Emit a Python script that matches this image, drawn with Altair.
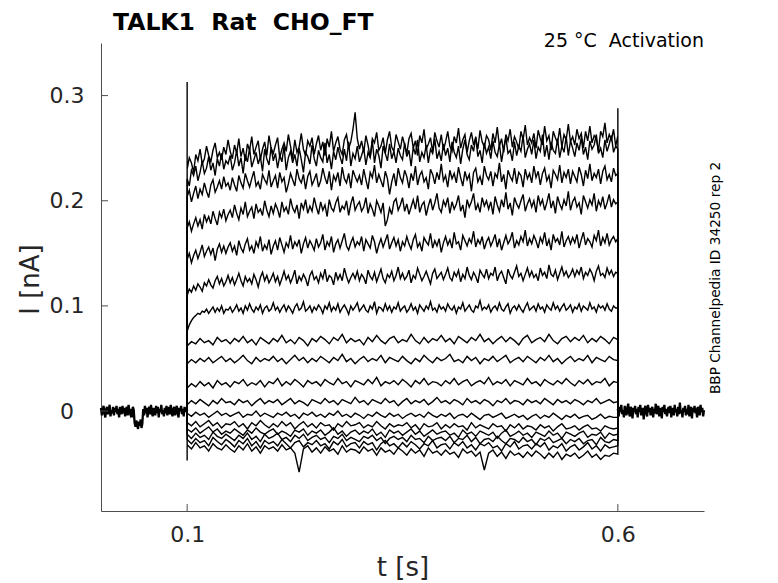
import altair as alt
import numpy as np
import pandas as pd

# ---------------- data (currents in pA) ----------------
T_PRE = (0.0, 0.1)
T_STEP = (0.1, 0.6)
T_POST = (0.6, 0.7)

PRE_BASE = """3 -4 1 5 -2 -6 2 4 -3 0 6 -5 1 -2 4 -4 3 -1 5 -3
2 -6 4 0 -3 5 -2 3 -5 1 4 -4 6 -1 -3 2 -6 4 1 -11
-15 -9 -13 -17 -10 -14 -8 -16 -12 2 -4 5 -2 3 -6 1 4 -3 6 -1
-5 3 0 -4 5 -2 4 -6 2 -1 6 -3 1 -5 3 -2 5 -4 0 4
-3 6 -1 -5 2 4 -4 1 5 -2 -6 3 0 5 -3 2 -5 4 -1 3
0"""

POST_BASE = """2 -5 4 -1 6 -3 1 -6 5 0 -4 3 7 -2 -5 4 1 -7 3 -1
5 -3 2 -6 4 -1 6 -4 0 3 -8 2 5 -2 -5 6 -1 3 -4 1
4 -6 2 -2 7 -3 1 5 -5 0 3 -7 4 -1 6 -3 2 -5 1 4
-2 5 -6 3 0 -4 6 -1 2 -5 4 -3 8 -2 1 -6 3 -1 5 -4
2 -3 6 -5 1 4 -7 3 -1 5 -2 0 -6 4 2 -4 6 -1 3 -5
1"""

TRACE_01 = """230 241 236 227 244 238 249 235 240 252 243 237 248 255 241 246 239 251 244 258
247 240 253 245 259 242 250 238 254 248 261 244 251 257 239 249 256 243 262 250
245 253 260 241 249 255 247 263 252 240 258 246 251 264 249 243 257 252 260 244
254 262 248 256 243 259 251 266 247 255 261 249 244 258 263 250 256 268 284 259
249 257 246 262 253 241 259 255 265 248 252 260 245 258 266 251 247 263 256 249
261 253 245 259 264 250 257 243 262 255 268 249 254 260 246 265 257 251 263 248
256 266 252 247 261 255 269 250 258 263 246 257 265 253 260 249 267 256 251 262
258 248 264 255 270 252 259 246 263 257 268 251 261 256 249 266 258 272 253 260
255 264 250 267 259 253 271 257 262 248 266 260 255 269 251 263 258 273 256 261
253 268 259 264 250 266 257 271 255 262 259 247 266 261 274 255 263 258 268 252
262"""

TRACE_02 = """221 214 229 224 233 219 227 238 226 231 242 229 236 224 240 233 245 230 238 235
243 229 236 248 233 241 226 244 237 250 232 239 246 235 242 228 249 240 234 251
238 245 231 243 237 252 229 241 247 236 244 233 250 239 227 246 242 235 253 240
233 248 241 237 255 236 244 230 247 239 251 242 235 249 238 256 233 245 240 252
237 243 250 234 246 241 257 236 249 243 231 252 245 238 254 240 247 236 250 243
239 255 242 248 233 251 244 258 237 246 241 253 236 249 245 259 240 247 238 254
243 250 237 256 246 241 252 235 249 258 244 239 253 247 261 242 248 236 255 245
251 240 257 246 242 254 237 250 260 245 248 238 256 243 252 247 262 241 249 254
244 258 240 251 247 263 242 253 239 256 248 245 259 241 252 246 261 243 257 250
242 255 248 260 244 251 239 257 249 253 263 245 250 241 258 247 254 262 246 252
249"""

TRACE_03 = """204 210 199 207 214 202 211 206 217 209 203 215 220 208 213 219 211 223 214 217
210 222 215 209 224 217 212 226 219 213 221 228 214 218 211 225 220 216 229 213
219 224 212 227 218 222 208 216 226 220 214 230 221 217 225 211 223 228 215 220
226 213 219 231 222 216 228 210 224 219 227 214 232 221 217 226 212 229 223 218
224 215 230 220 211 227 222 234 217 225 219 213 228 221 206 218 226 214 231 222
217 229 223 212 226 219 233 215 224 228 218 222 211 230 225 216 227 220 235 219
224 213 229 221 226 217 232 222 214 228 220 225 209 227 231 218 223 215 233 224
220 228 214 226 222 236 218 225 211 229 223 219 231 216 227 224 213 230 221 226
217 233 222 228 215 226 231 219 224 212 229 225 220 234 217 227 222 230 216 228
223 218 232 225 214 229 221 235 219 226 222 230 216 228 233 220 225 218 231 224
226"""

TRACE_04 = """174 180 171 178 184 176 182 173 187 180 185 178 190 183 177 189 184 192 181 187
191 184 196 188 182 193 187 199 185 190 194 183 197 189 192 186 200 191 185 195
188 197 192 184 199 190 194 187 202 193 189 196 183 198 192 201 188 195 190 203
194 187 199 191 196 185 201 193 190 198 203 189 195 192 200 186 197 204 191 196
199 190 194 203 188 197 192 185 200 195 189 198 176 182 193 187 199 202 191 196
203 190 197 187 194 201 192 205 189 196 199 186 195 202 191 198 207 193 189 200
195 203 188 199 192 197 205 190 196 184 201 194 199 207 191 197 189 203 195 200
192 199 187 204 196 190 201 194 208 192 198 186 203 197 193 200 206 190 197 202
194 200 189 205 196 201 191 198 207 193 200 188 204 197 192 201 195 209 191 199
203 194 198 187 205 199 193 201 196 207 190 200 195 204 192 198 206 194 201 197
199"""

TRACE_05 = """144 150 141 148 153 145 151 158 147 152 156 149 155 143 154 159 151 157 150 156
160 152 157 148 162 155 151 159 164 153 157 150 161 156 166 152 158 154 163 149
157 162 153 165 158 151 160 156 167 154 161 157 163 150 159 165 155 162 158 153
164 156 160 168 153 161 157 166 151 159 163 155 162 169 157 153 160 165 156 161
158 166 152 163 159 155 167 161 150 158 164 156 162 168 154 160 165 157 163 152
161 157 166 159 154 163 168 156 160 152 165 161 158 169 155 162 157 164 151 160
166 158 163 155 170 159 161 153 167 162 157 164 160 171 156 163 159 166 154 161
165 157 162 168 156 164 153 160 167 159 163 170 155 162 158 166 161 172 157 164
159 167 162 155 165 160 170 157 163 153 168 161 164 158 171 156 162 166 159 165
160 168 155 163 170 158 164 161 156 167 162 172 157 165 160 169 158 163 166 161
164"""

TRACE_06 = """110 116 113 119 115 121 118 114 122 119 125 120 117 124 128 121 126 119 123 129
122 127 120 125 131 124 119 128 123 126 121 130 125 118 127 132 124 129 122 126
131 123 128 120 126 133 125 129 122 127 134 121 128 124 130 126 119 129 133 125
128 122 131 126 135 123 129 127 120 132 125 130 124 136 128 122 127 131 126 133
124 130 127 121 134 128 125 132 123 129 135 126 122 130 127 133 124 129 137 126
131 125 128 134 122 129 126 136 130 124 128 133 127 121 131 135 126 129 132 125
130 136 127 124 132 128 134 123 130 126 137 129 125 132 128 122 134 130 127 135
126 131 129 137 124 130 133 127 121 135 129 126 132 138 128 131 124 130 136 128
133 127 130 124 136 129 132 126 139 130 128 134 125 131 137 129 133 127 130 135
128 134 130 137 126 132 129 135 131 124 133 138 129 131 127 136 130 134 128 132
131"""

TRACE_07 = """76 82 86 89 91 93 92 95 94 97 93 96 99 94 98 95 100 93 97 96
99 94 97 101 95 98 93 100 96 102 97 94 99 96 101 93 98 100 95 97
103 96 99 94 98 101 95 100 97 93 99 102 96 98 104 95 97 100 94 99
96 101 98 93 100 97 103 95 99 96 102 94 98 101 97 92 100 96 99 103
95 98 101 96 94 100 97 104 93 99 98 95 102 96 100 94 99 97 103 95
98 100 94 97 102 96 99 93 101 98 95 100 97 104 96 98 94 101 97 99
95 102 98 96 100 93 99 97 103 95 98 101 96 94 100 98 105 96 99 97
101 94 98 100 96 103 97 95 99 102 93 98 100 96 101 97 94 99 103 96
98 100 95 102 97 99 94 101 98 96 103 97 100 95 99 102 96 98 101 94
99 97 102 95 100 98 96 103 97 99 94 101 98 100 96 102 97 95 100 98
98"""

TRACE_08 = """62 66 64 69 65 67 63 70 66 68
64 69 66 71 65 68 63 70 67 64
69 66 72 65 68 64 70 67 62 69
66 71 68 64 70 67 73 65 69 66
68 63 70 66 72 67 64 69 71 65
68 66 73 67 64 70 65 69 67 72
66 69 64 71 68 65 70 67 73 66
69 64 68 71 66 70 67 63 69 72
65 68 70 66 73 67 64 69 71 66
70 67 72 65 69 66 71 68 64 70
68"""

TRACE_09 = """45 49 46 50 47 51 46 49 52 47
50 46 49 53 48 45 51 47 50 48
52 47 50 45 49 53 48 51 46 50
47 52 49 46 51 48 54 47 50 45
49 52 47 50 48 53 46 51 49 47
52 48 45 50 47 53 49 46 51 48
50 54 47 49 46 52 48 51 45 50
48 52 47 50 53 46 49 51 47 52
49 46 51 48 53 47 50 45 49 52
47 50 48 53 46 51 49 47 52 49
48"""

TRACE_10 = """22 26 23 28 24 27 22 29 25 27
23 28 26 30 24 27 25 29 23 28
26 31 24 28 25 30 27 23 29 26
28 24 30 27 25 31 26 28 23 29
27 25 30 26 32 24 28 26 29 25
30 27 23 29 26 31 25 28 27 24
29 26 31 25 28 30 24 27 29 26
32 25 28 26 30 24 29 27 25 31
26 28 24 30 27 25 29 26 31 27
24 29 26 30 25 28 27 31 24 28
27"""

TRACE_11 = """6 10 7 11 8 5 10 7 12 8
9 6 11 8 10 5 9 12 7 10
8 11 6 9 12 7 10 8 5 11
9 7 12 8 10 6 11 9 7 13
8 10 6 11 9 7 12 8 10 5
9 12 7 10 8 11 6 9 13 8
10 7 11 9 6 12 8 10 7 11
9 5 10 8 12 7 10 9 6 11
8 10 7 12 9 6 11 8 10 7
11 9 6 10 8 12 7 9 11 8
9"""

TRACE_12 = """-2 -5 -1 -4 -2 -6 -3 0 -4 -2
-5 -3 -1 -6 -3 -4 0 -5 -2 -4
-6 -2 -4 -1 -5 -3 -7 -2 -4 -1
-5 -3 -6 -2 -4 0 -5 -3 -6 -2
-4 -7 -3 -5 -1 -4 -6 -2 -5 -3
-7 -4 -2 -5 -3 -6 -1 -4 -6 -3
-5 -2 -7 -4 -3 -6 -2 -5 -8 -4
-3 -6 -4 -2 -7 -5 -3 -6 -4 -8
-5 -3 -7 -4 -6 -2 -5 -8 -4 -6
-3 -7 -5 -4 -8 -6 -3 -7 -5 -6
-6"""

TRACE_13 = """-11 -14 -10 -15 -12 -9 -14 -11 -16 -12
-13 -10 -15 -12 -17 -11 -14 -9 -13 -16
-12 -15 -10 -14 -11 -17 -13 -10 -15 -12
-16 -11 -14 -13 -18 -12 -15 -10 -14 -13
-11 -16 -13 -15 -10 -14 -17 -12 -15 -13
-14 -11 -16 -13 -18 -12 -15 -14 -11 -17
-13 -16 -12 -15 -14 -18 -11 -16 -13 -15
-17 -12 -15 -14 -19 -13 -16 -12 -17 -14
-15 -18 -13 -16 -14 -19 -15 -12 -17 -16
-14 -18 -15 -13 -17 -16 -19 -14 -16 -17
-16"""

TRACE_14 = """-17 -20 -16 -21 -18 -15 -20 -17 -22 -19
-21 -17 -20 -23 -18 -21 -16 -20 -22 -19
-17 -22 -19 -21 -24 -18 -20 -17 -23 -19
-21 -18 -23 -20 -16 -22 -19 -24 -20 -18
-22 -19 -21 -17 -23 -20 -25 -18 -21 -19
-23 -20 -17 -22 -19 -24 -21 -18 -22 -20
-19 -23 -21 -25 -18 -22 -20 -24 -19 -21
-23 -20 -26 -21 -18 -24 -22 -19 -23 -21
-25 -20 -22 -24 -19 -23 -21 -26 -20 -22
-24 -21 -19 -25 -22 -23 -20 -26 -21 -23
-22"""

TRACE_15 = """-22 -26 -21 -25 -23 -27 -20 -24 -26 -22
-25 -28 -23 -26 -21 -27 -24 -29 -22 -26
-24 -21 -27 -25 -29 -23 -26 -22 -28 -25
-23 -27 -25 -30 -24 -26 -22 -28 -25 -27
-29 -24 -26 -23 -28 -25 -31 -26 -24 -27
-25 -29 -23 -27 -26 -30 -24 -28 -26 -25
-28 -24 -30 -26 -27 -23 -29 -25 -31 -27
-26 -29 -24 -28 -31 -26 -27 -30 -25 -29
-27 -32 -26 -28 -25 -30 -28 -26 -31 -27
-29 -26 -31 -28 -27 -32 -25 -29 -30 -27
-28"""

TRACE_16 = """-27 -31 -26 -30 -28 -33 -25 -29 -32 -27
-30 -34 -28 -31 -26 -33 -29 -35 -28 -31
-29 -33 -27 -31 -35 -30 -28 -34 -30 -32
-28 -33 -31 -36 -29 -32 -27 -34 -31 -30
-35 -29 -32 -30 -37 -31 -28 -33 -31 -35
-30 -34 -29 -32 -36 -31 -33 -28 -35 -32
-31 -36 -30 -33 -29 -35 -32 -37 -31 -33
-30 -35 -33 -38 -31 -34 -29 -36 -33 -32
-36 -31 -34 -30 -37 -33 -35 -31 -38 -34
-32 -37 -34 -30 -36 -33 -38 -32 -35 -34
-33"""

TRACE_17 = """-32 -36 -30 -35 -33 -38 -31 -35 -37 -32
-36 -39 -33 -37 -31 -38 -34 -40 -33 -36
-34 -38 -32 -37 -35 -40 -58 -36 -33 -39
-35 -40 -34 -38 -36 -41 -33 -39 -36 -37
-40 -34 -38 -36 -42 -35 -39 -37 -41 -35
-38 -42 -36 -40 -37 -43 -35 -40 -38 -42
-37 -41 -39 -44 -36 -40 -38 -43 -39 -56
-40 -37 -43 -39 -45 -38 -42 -40 -44 -39
-43 -38 -41 -45 -40 -44 -39 -46 -41 -43
-40 -45 -42 -38 -44 -41 -46 -42 -43 -40
-41"""

TRACES = [TRACE_01, TRACE_02, TRACE_03, TRACE_04, TRACE_05, TRACE_06,
          TRACE_07, TRACE_08, TRACE_09, TRACE_10, TRACE_11, TRACE_12,
          TRACE_13, TRACE_14, TRACE_15, TRACE_16, TRACE_17]

# capacitive transients at the step edges (pA): {trace index: value}
ONSET_SPIKES = {0: 313, 16: -47}
OFFSET_SPIKES = {0: 288}

X_TICKS = [0.1, 0.6]
Y_TICKS = [0.0, 0.1, 0.2, 0.3]
X_DOMAIN = [0.0, 0.7]
Y_DOMAIN = [-0.095, 0.35]

TITLE = "TALK1\u00a0 Rat\u00a0 CHO_FT"
CONDITION = "25 °C\u00a0 Activation"
SOURCE = "BBP Channelpedia ID 34250 rep 2"


def parse(s):
    return [int(v) for v in s.split()]


# ---------------- build long table ----------------
rows = []
pre = parse(PRE_BASE)
for t, v in zip(np.linspace(T_PRE[0], T_PRE[1], len(pre)), pre):
    rows.append(dict(t=t, I=v / 1000, trace="pre", o=len(rows), kind="base"))
post = parse(POST_BASE)
for t, v in zip(np.linspace(T_POST[0], T_POST[1], len(post)), post):
    rows.append(dict(t=t, I=v / 1000, trace="post", o=len(rows), kind="base"))

for i, s in enumerate(TRACES):
    vals = parse(s)
    name = f"s{i:02d}"
    seq = [(T_STEP[0], 0)]
    if i in ONSET_SPIKES:
        seq.append((T_STEP[0], ONSET_SPIKES[i]))
    seq += list(zip(np.linspace(T_STEP[0], T_STEP[1], len(vals)), vals))
    if i in OFFSET_SPIKES:
        seq.append((T_STEP[1], OFFSET_SPIKES[i]))
    seq.append((T_STEP[1], 0))
    for t, v in seq:
        rows.append(dict(t=t, I=v / 1000, trace=name, o=len(rows), kind="step"))

df = pd.DataFrame(rows)

# ---------------- chart ----------------
W, H = 603, 468
AX = "#4d4d4d"
TXT = "#262626"
FONT = "DejaVu Sans"

xs = alt.Scale(domain=X_DOMAIN, nice=False, zero=False)
ys = alt.Scale(domain=Y_DOMAIN, nice=False, zero=False)

x_axis = alt.Axis(values=X_TICKS, format=".1f", grid=False, ticks=False,
                  domainColor=AX, labelFontSize=22, labelColor=TXT, labelPadding=13,
                  titleFontSize=26, titleFontWeight="normal", titleColor=TXT,
                  titleBaseline="middle", titleY=56, labelFont=FONT, titleFont=FONT)
y_axis = alt.Axis(values=Y_TICKS, format="~g", grid=False, ticks=False,
                  domainColor=AX, labelFontSize=22, labelColor=TXT,
                  labelAlign="center", labelPadding=34.5,
                  titleFontSize=26, titleFontWeight="normal", titleColor=TXT,
                  titleAngle=270, titleAlign="center", titleBaseline="middle",
                  titleX=-71, titleY=236, labelFont=FONT, titleFont=FONT)

X = alt.X("t:Q", scale=xs, axis=x_axis, title="t [s]")
Y = alt.Y("I:Q", scale=ys, axis=y_axis, title="I [nA]")

steps = alt.Chart(df[df.kind == "step"]).mark_line(
    color="black", strokeWidth=1.4
).encode(x=X, y=Y, detail="trace:N", order="o:Q")

base = alt.Chart(df[df.kind == "base"]).mark_line(
    color="black", strokeWidth=2.3
).encode(x=X, y=Y, detail="trace:N", order="o:Q")

ytick = alt.Chart(pd.DataFrame({"I": Y_TICKS})).mark_rule(color=AX, strokeWidth=1).encode(
    y=Y, x=alt.value(0), x2=alt.value(7))
xtick = alt.Chart(pd.DataFrame({"t": X_TICKS})).mark_rule(color=AX, strokeWidth=1).encode(
    x=X, y=alt.value(H), y2=alt.value(H - 7))

title = alt.Chart(pd.DataFrame({"label": [TITLE]})).mark_text(
    align="left", baseline="alphabetic", fontSize=23.5, font=FONT, fontWeight="bold",
    color="black"
).encode(text="label:N", x=alt.value(12), y=alt.value(-13))

cond = alt.Chart(pd.DataFrame({"label": [CONDITION]})).mark_text(
    align="right", baseline="alphabetic", fontSize=19, font=FONT, color="black"
).encode(text="label:N", x=alt.value(W), y=alt.value(4))

src = alt.Chart(pd.DataFrame({"label": [SOURCE]})).mark_text(
    align="center", baseline="middle", angle=270, fontSize=13.7, font=FONT, color="black"
).encode(text="label:N", x=alt.value(615), y=alt.value(235))

chart = alt.layer(steps, base, ytick, xtick, title, cond, src).properties(
    width=W, height=H,
    background="white",
    autosize=alt.AutoSizeParams(type="none"),
    padding={"left": 93, "top": 35, "right": 60, "bottom": 70},
).configure(font=FONT).configure_view(strokeWidth=0, stroke=None)

chart.save("out.html", embed_options={"renderer": "svg", "actions": False})
